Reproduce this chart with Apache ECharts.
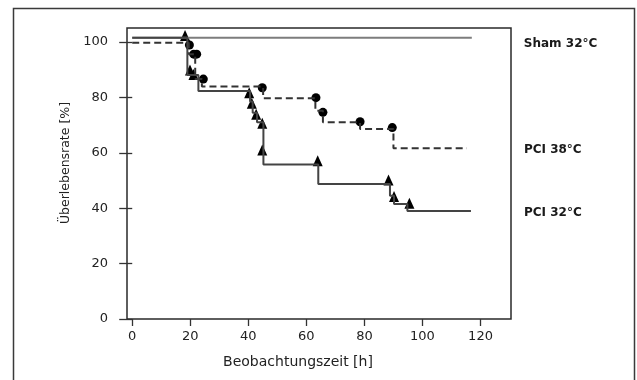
<!DOCTYPE html>
<html>
<head>
<meta charset="utf-8">
<script src="https://cdn.jsdelivr.net/npm/echarts@6/dist/echarts.min.js"></script>
<style>
  html, body { margin: 0; padding: 0; background: #ffffff; }
  #chart { width: 637px; height: 380px; }
</style>
</head>
<body>
<div id="chart"></div>
<script>
// ---- data ----
const xTicks = [0, 20, 40, 60, 80, 100, 120];
const yTicks = [0, 20, 40, 60, 80, 100];
const xTitle = 'Beobachtungszeit [h]';
const yTitle = 'Überlebensrate [%]';
const seriesNames = ['Sham 32°C', 'PCI 38°C', 'PCI 32°C'];

// Kaplan-Meier curves: [time h, survival % after the drop]
const shamCurve = [[0, 101.5], [117, 101.5]];
const pci38Curve = [[0, 99.7], [19.5, 95.6], [21.7, 86.6], [24.0, 83.9], [45.1, 79.7],
                    [63.1, 75.2], [65.7, 71.0], [78.5, 68.6], [90.0, 61.6], [115.3, 61.6]];
const pci32Curve = [[0, 101.5], [19.0, 88.1], [22.8, 82.3], [40.6, 78.5], [41.5, 74.5],
                    [43.0, 71.0], [45.2, 55.8], [64.1, 48.7], [88.8, 44.5], [90.2, 41.5],
                    [94.8, 39.0], [116.7, 39.0]];
// event markers
const pci38Events = [[19.7, 98.9], [21.2, 95.6], [22.2, 95.6], [24.5, 86.6], [44.8, 83.5],
                     [63.3, 79.9], [65.7, 74.6], [78.5, 71.2], [89.6, 69.1]];
const pci32Events = [[18.2, 102.3], [19.9, 89.9], [21.1, 88.3], [40.3, 81.7], [41.2, 77.9],
                     [42.7, 73.9], [44.8, 70.7], [44.8, 61.0], [63.9, 57.1], [88.3, 50.2],
                     [90.2, 44.2], [95.5, 41.8]];

// ---- chart ----
const FONT = 'DejaVu Sans';
const chart = echarts.init(document.getElementById('chart'), null, { renderer: 'canvas' });

function endLabel(text, distance, dy) {
  return {
    show: true, formatter: text, distance: distance, offset: [0, dy],
    fontFamily: FONT, fontWeight: 'bold', fontSize: 12, color: '#1a1a1a'
  };
}

chart.setOption({
  animation: false,
  backgroundColor: '#ffffff',
  graphic: [{
    type: 'rect', left: 11, top: 6,
    shape: { width: 621, height: 420 },
    style: { fill: 'none', stroke: '#3a3a3a', lineWidth: 1.5 },
    silent: true
  }],
  grid: {
    left: 127, right: 126, top: 28, bottom: 61,
    show: true, borderColor: '#2a2a2a', borderWidth: 1.5,
    backgroundColor: 'transparent', containLabel: false, outerBoundsMode: 'none'
  },
  xAxis: {
    type: 'value', min: -1.8, max: 130.5,
    name: xTitle, nameLocation: 'middle', nameGap: 36,
    nameTextStyle: { fontFamily: FONT, fontSize: 14, color: '#222', padding: [0, 42, 0, 0] },
    axisLine: { show: false },
    axisTick: { show: true, length: 7, customValues: xTicks, lineStyle: { color: '#333', width: 1.3 } },
    axisLabel: { customValues: xTicks, margin: 11, fontFamily: FONT, fontSize: 13, color: '#222' },
    splitLine: { show: false }
  },
  yAxis: {
    type: 'value', min: 0, max: 105.05,
    name: yTitle, nameLocation: 'middle', nameGap: 48, nameRotate: 90,
    nameTextStyle: { fontFamily: FONT, fontSize: 12.5, color: '#222', padding: [0, 0, 0, 21] },
    axisLine: { show: false },
    axisTick: { show: true, length: 13, customValues: yTicks, lineStyle: { color: '#333', width: 1.3 } },
    axisLabel: { customValues: yTicks, margin: 19, fontFamily: FONT, fontSize: 13, color: '#222' },
    splitLine: { show: false }
  },
  series: [
    {
      name: seriesNames[0], type: 'line', data: shamCurve, step: 'end',
      showSymbol: false, symbol: 'none',
      lineStyle: { color: '#7d7d7d', width: 2 },
      endLabel: endLabel(seriesNames[0], 52, 6.5)
    },
    {
      name: seriesNames[1], type: 'line', data: pci38Curve, step: 'end',
      showSymbol: false, symbol: 'none',
      lineStyle: { color: '#333', width: 2, type: [7, 4] },
      endLabel: endLabel(seriesNames[1], 57, 1.6)
    },
    {
      name: seriesNames[2], type: 'line', data: pci32Curve, step: 'end',
      showSymbol: false, symbol: 'none',
      lineStyle: { color: '#444', width: 2 },
      endLabel: endLabel(seriesNames[2], 53, 2.3)
    },
    {
      name: seriesNames[1] + ' events', type: 'scatter', data: pci38Events,
      symbol: 'circle', symbolSize: 9,
      itemStyle: { color: '#000', opacity: 1 }
    },
    {
      name: seriesNames[2] + ' events', type: 'scatter', data: pci32Events,
      symbol: 'triangle', symbolSize: [10, 11],
      itemStyle: { color: '#000', opacity: 1 }
    }
  ]
});
</script>
</body>
</html>
